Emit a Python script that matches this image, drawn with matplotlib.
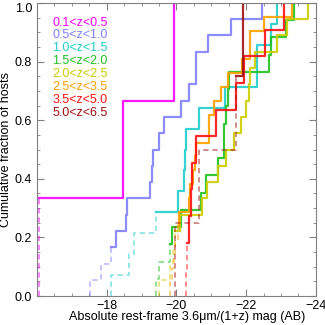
import numpy as np
import matplotlib as mpl
mpl.use('Agg')
import matplotlib.pyplot as plt
from matplotlib.ticker import MultipleLocator, FormatStrFormatter

#
#--- host magnitudes in each redshift bin, faint to bright
#
mag_z01 = [-16.05, -18.46, -19.94]
mag_z05 = [-17.51, -17.83, -18.11, -18.26, -18.54, -18.57, -19.23, -19.29, -19.34,
           -19.49, -19.63, -20.13, -20.35, -20.56, -20.56, -20.91, -21.56, -22.44]
mag_z10 = [-18.13, -18.64, -18.78, -19.40, -20.04, -20.23, -20.24, -20.26, -20.66,
           -21.40, -22.31, -22.31, -22.71, -22.89]
mag_z15 = [-19.40, -19.49, -19.82, -19.88, -20.13, -20.71, -20.85, -21.18, -21.35,
           -21.37, -21.42, -21.49, -21.50, -22.66, -22.71, -23.15, -23.37]
mag_z20 = [-19.49, -19.82, -19.91, -19.96, -20.09, -20.73, -20.88, -21.18, -21.42,
           -21.66, -21.85, -21.99, -22.09, -22.10, -22.26, -22.89, -23.18, -23.78]
mag_z25 = [-19.80, -19.88, -19.94, -19.97, -20.03, -20.07, -20.37, -20.40, -20.46,
           -20.54, -20.56, -20.92, -20.94, -21.07, -21.28, -21.47, -21.89, -22.10,
           -22.11, -22.51, -23.32]
mag_z35 = [-20.26, -20.31, -20.37, -20.41, -20.44, -20.56, -21.13, -21.71, -21.94,
           -22.54, -23.09]
mag_z50 = [-19.97, -20.66, -21.71, -21.92]

#
#--- number of faint hosts (below completeness) drawn dashed
#
n_dashed = [1, 3, 4, 3, 4, 5, 2, 3]

labels = ['0.1<z<0.5', '0.5<z<1.0', '1.0<z<1.5', '1.5<z<2.0',
          '2.0<z<2.5', '2.5<z<3.5', '3.5<z<5.0', '5.0<z<6.5']

colors = ['#ff00ff', '#8080ff', '#20cccc', '#20c020',
          '#cccc00', '#ffa000', '#ff1010', '#a01010']

x_ticks = [-18, -20, -22, -24]
y_ticks = [0.0, 0.2, 0.4, 0.6, 0.8, 1.0]

#----------------------------------------------------------------------------------------
#--- plot_cdf: draw one cumulative step curve, faint part dashed                      ---
#----------------------------------------------------------------------------------------

def plot_cdf(ax, mags, nd, color):
    """
    draw a cumulative distribution as steps
    input:  ax      --- axis
            mags    --- list of magnitudes (faint to bright)
            nd      --- number of points drawn dashed
            color   --- line color
    """
    mags = np.array(mags)
    n    = len(mags)
    frac = np.arange(1, n + 1) / float(n)
#
#--- dashed part
#
    xd = np.concatenate(([mags[0]], mags[:nd]))
    yd = np.concatenate(([0.0], frac[:nd]))
    ax.step(xd, yd, where='post', color=color, lw=1.1, ls=(0, (3.5, 2.5)), alpha=0.6)
#
#--- solid part
#
    xs = mags[nd - 1:]
    ys = frac[nd - 1:]
    ax.step(xs, ys, where='post', color=color, lw=1.6, alpha=0.9)


plt.rcParams['font.family'] = ['Liberation Sans', 'DejaVu Sans']
plt.rcParams['font.size'] = 9

fig = plt.figure(figsize=(3.25, 3.25), dpi=100)
ax  = fig.add_axes([0.114, 0.089, 0.858, 0.902])

all_mags = [mag_z01, mag_z05, mag_z10, mag_z15, mag_z20, mag_z25, mag_z35, mag_z50]

for mags, nd, col in zip(all_mags, n_dashed, colors):
    plot_cdf(ax, mags, nd, col)

ax.set_xlim(-16, -24)
ax.set_ylim(0, 1.0)
ax.set_xticks(x_ticks)
ax.set_yticks(y_ticks)
ax.xaxis.set_minor_locator(MultipleLocator(0.5))
ax.yaxis.set_minor_locator(MultipleLocator(0.05))
ax.yaxis.set_major_formatter(FormatStrFormatter('%.1f'))
ax.tick_params(which='both', direction='in', top=True, right=True, color='#808080')
ax.tick_params(which='major', length=5, labelsize=9)
ax.tick_params(axis='x', which='major', pad=3)
ax.tick_params(which='minor', length=2.5)
for sp in ax.spines.values():
    sp.set_color('#808080')
#
#--- keep the top tick label inside the figure
#
ax.yaxis.get_major_ticks()[-1].label1.set_verticalalignment('top')

ax.set_xlabel('Absolute rest-frame 3.6\u03bcm/(1+z) mag (AB)', fontsize=9)
ax.xaxis.set_label_coords(0.538, -0.052)
ax.set_ylabel('Cumulative fraction of hosts', fontsize=9, labelpad=2)
#
#--- legend as colored text
#
for i, (lab, col) in enumerate(zip(labels, colors)):
    ax.text(0.054, 0.933 - i * 0.044, lab, color=col, fontsize=9,
            transform=ax.transAxes, va='center', ha='left')

plt.savefig('out.png', dpi=100)
plt.close('all')
